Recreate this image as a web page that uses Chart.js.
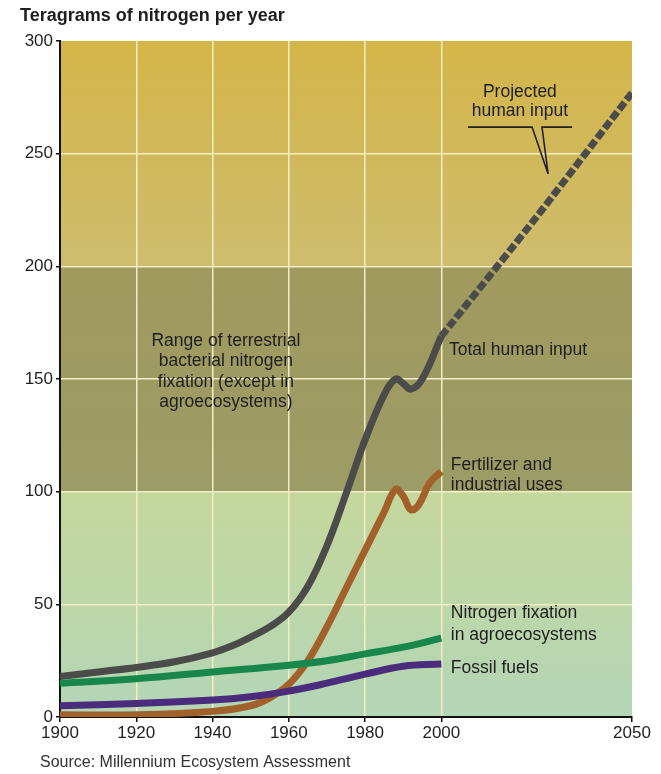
<!DOCTYPE html>
<html>
<head>
<meta charset="utf-8">
<script src="https://cdn.jsdelivr.net/npm/chart.js@4.4.0/dist/chart.umd.min.js"></script>
<style>
  html, body { margin: 0; padding: 0; background: #fff; }
  #wrap { width: 661px; height: 774px; position: relative; }
</style>
</head>
<body>
<div id="wrap"><canvas id="chart"></canvas></div>
<script>
// data (teragrams of nitrogen per year)
const xTicks = [1900, 1920, 1940, 1960, 1980, 2000, 2050];

const totalYears = [1900, 1910, 1920, 1930, 1940, 1945, 1950, 1955, 1960, 1965, 1970, 1975, 1980, 1985, 1988, 1990, 1992, 1995, 2000];
const totalVals  = [18, 20, 22, 24.5, 28.5, 31.5, 35.5, 40, 46.5, 58, 76, 99, 123, 143, 150, 148, 145.5, 150, 169];

const projYears = [2000, 2025, 2050];
const projVals  = [169, 222, 277];

const fertYears = [1900, 1920, 1940, 1950, 1955, 1960, 1965, 1970, 1975, 1980, 1985, 1988, 1990, 1992, 1994, 1997, 2000];
const fertVals  = [1, 1, 2.5, 5, 8.5, 14.5, 25, 40, 57, 74, 91, 101, 98, 92, 94, 104, 109];

const fixYears = [1900, 1920, 1940, 1960, 1970, 1980, 1990, 2000];
const fixVals  = [15, 17, 20, 23, 25, 28, 31, 35];

const fossilYears = [1900, 1920, 1940, 1950, 1960, 1970, 1980, 1990, 2000];
const fossilVals  = [5, 6, 7.5, 9, 11.5, 15, 19, 22.5, 23.5];

const pts = (xs, ys) => xs.map((x, i) => ({x: x, y: ys[i]}));

const FONT = "'Liberation Sans', Arial, sans-serif";
const TXT = '#1e1e1e';

// coloured bands + annotations
const decor = {
  id: 'decor',
  beforeDraw(c) {
    const {ctx, chartArea: a, scales: {x, y}} = c;
    const band = (lo, hi, top, bot) => {
      const y0 = y.getPixelForValue(hi), y1 = y.getPixelForValue(lo);
      const g = ctx.createLinearGradient(0, y0, 0, y1);
      g.addColorStop(0, top); g.addColorStop(1, bot);
      ctx.fillStyle = g;
      ctx.fillRect(a.left, y0, a.right - a.left, y1 - y0);
    };
    ctx.save();
    band(200, 300, '#d4b548', '#cdbd6e');
    band(100, 200, '#a09a5e', '#9c9c66');
    band(0, 100, '#c5d79c', '#b3d6b6');
    ctx.restore();
  },
  afterDraw(c) {
    const {ctx, scales: {x, y}} = c;
    const px = v => x.getPixelForValue(v), py = v => y.getPixelForValue(v);
    ctx.save();
    ctx.fillStyle = TXT;
    ctx.textBaseline = 'middle';

    // title and source
    ctx.font = 'bold 18px ' + FONT;
    ctx.textAlign = 'left';
    ctx.fillText('Teragrams of nitrogen per year', 20, 16);
    ctx.font = '16px ' + FONT;
    ctx.fillStyle = '#333';
    ctx.fillText('Source: Millennium Ecosystem Assessment', 40, 763);
    ctx.fillStyle = TXT;

    ctx.font = '17.5px ' + FONT;
    // range label
    ctx.textAlign = 'center';
    ['Range of terrestrial', 'bacterial nitrogen', 'fixation (except in', 'agroecosystems)']
      .forEach((t, i) => ctx.fillText(t, px(1943.5), py(167) + i * 20.5));

    // projected label with callout
    ['Projected', 'human input'].forEach((t, i) => ctx.fillText(t, px(2020.6), py(277.3) + i * 19));
    ctx.strokeStyle = '#222';
    ctx.lineWidth = 1.6;
    ctx.beginPath();
    ctx.moveTo(px(2007), py(261.8));
    ctx.lineTo(px(2023.8), py(261.8));
    ctx.lineTo(px(2028), py(241));
    ctx.lineTo(px(2026.4), py(261.8));
    ctx.lineTo(px(2034.3), py(261.8));
    ctx.stroke();

    // series labels
    ctx.textAlign = 'left';
    ctx.fillText('Total human input', px(2002), py(163));
    ctx.fillText('Fertilizer and', px(2002.5), py(111.6));
    ctx.fillText('industrial uses', px(2002.5), py(103.1));
    ctx.fillText('Nitrogen fixation', px(2002.5), py(46.2));
    ctx.fillText('in agroecosystems', px(2002.5), py(36.4));
    ctx.fillText('Fossil fuels', px(2002.5), py(21.8));
    ctx.restore();
  }
};

const line = (label, data, color, extra) => Object.assign({
  label: label,
  data: data,
  borderColor: color,
  borderWidth: 7,
  pointRadius: 0,
  fill: false,
  tension: 0.4,
  borderCapStyle: 'butt',
  borderJoinStyle: 'round'
}, extra || {});

const ctx = document.querySelector('#chart').getContext('2d');
new Chart(ctx, {
  type: 'line',
  data: {
    datasets: [
      line('Nitrogen fixation in agroecosystems', pts(fixYears, fixVals), '#18884a'),
      line('Fossil fuels', pts(fossilYears, fossilVals), '#4a2b7c'),
      line('Fertilizer and industrial uses', pts(fertYears, fertVals), '#a2612b'),
      line('Total human input', pts(totalYears, totalVals), '#4b4b49'),
      line('Projected human input', pts(projYears, projVals), '#4b4b49', {borderDash: [9, 3], tension: 0.2})
    ]
  },
  options: {
    responsive: true,
    maintainAspectRatio: false,
    animation: false,
    layout: {padding: {top: 41, right: 29, left: 0, bottom: 0}},
    plugins: {legend: {display: false}, tooltip: {enabled: false}},
    scales: {
      x: {
        type: 'linear',
        min: 1900, max: 2050,
        afterBuildTicks: s => { s.ticks = xTicks.map(v => ({value: v})); },
        afterFit: s => { s.height = 57; },
        border: {color: '#111', width: 2},
        grid: {
          color: c => (c.tick && (c.tick.value === 1900 || c.tick.value === 2050)) ? 'rgba(0,0,0,0)' : '#f3edc4',
          lineWidth: 1.5,
          tickLength: 5,
          tickColor: '#111'
        },
        ticks: {
          color: TXT,
          font: {family: FONT, size: 17},
          padding: 1,
          maxRotation: 0,
          autoSkip: false,
          callback: v => String(v)
        }
      },
      y: {
        min: 0, max: 300,
        afterFit: s => { s.width = 60; },
        border: {color: '#111', width: 2},
        grid: {
          color: c => (c.tick && (c.tick.value === 0 || c.tick.value === 300)) ? 'rgba(0,0,0,0)' : '#f3edc4',
          lineWidth: 1.5,
          tickLength: 4,
          tickColor: '#111'
        },
        ticks: {
          stepSize: 50,
          color: TXT,
          font: {family: FONT, size: 17},
          padding: 3
        }
      }
    }
  },
  plugins: [decor]
});
</script>
</body>
</html>
